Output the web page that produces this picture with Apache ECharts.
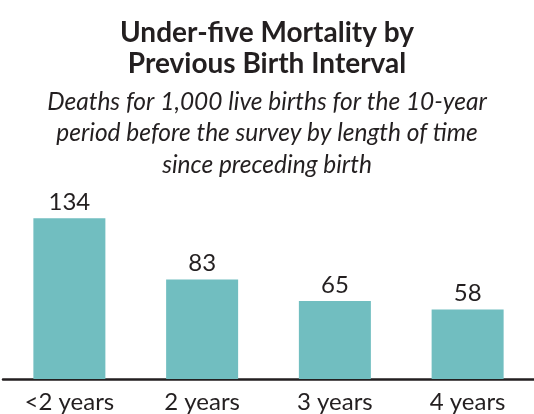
<!DOCTYPE html>
<html>
<head>
<meta charset="utf-8">
<script src="https://cdn.jsdelivr.net/npm/echarts@6/dist/echarts.min.js"></script>
<style>
  html, body { margin: 0; padding: 0; background: #fff; }
  #main { width: 534px; height: 414px; }
</style>
</head>
<body>
<div id="main"></div>
<script>
// data
const categories = ['<2 years', '2 years', '3 years', '4 years'];
const deaths = [134, 83, 65, 58];

const titleText = 'Under-five Mortality by\nPrevious Birth Interval';
const subText = 'Deaths for 1,000 live births for the 10-year\nperiod before the survey by length of time\nsince preceding birth';

const ink = '#231f20';
const font = 'Lato';

const chart = echarts.init(document.getElementById('main'));
const option = {
  animation: false,
  backgroundColor: '#fff',
  title: [
    {
      text: titleText,
      left: 'center',
      top: 12,
      textStyle: { fontFamily: font, fontWeight: 'bold', fontSize: 28, lineHeight: 31, color: ink }
    },
    {
      text: subText,
      left: 'center',
      top: 81,
      textStyle: { fontFamily: font, fontStyle: 'italic', fontWeight: 'normal', fontSize: 24.5, lineHeight: 31.5, color: ink }
    }
  ],
  grid: { left: 3, right: -10, top: 199, bottom: 33 },
  xAxis: {
    type: 'category',
    data: categories,
    axisLine: { lineStyle: { color: ink, width: 2.5 } },
    axisTick: { show: false },
    axisLabel: { fontFamily: font, fontSize: 24, color: ink, margin: 11, interval: 0 }
  },
  yAxis: {
    type: 'value',
    min: 0,
    max: 150,
    show: false
  },
  series: [
    {
      type: 'bar',
      data: deaths,
      barWidth: 72,
      itemStyle: { color: '#71bec0' },
      label: {
        show: true,
        position: 'top',
        distance: 4,
        fontFamily: font,
        fontSize: 24,
        color: ink
      }
    }
  ]
};
chart.setOption(option);
</script>
</body>
</html>
